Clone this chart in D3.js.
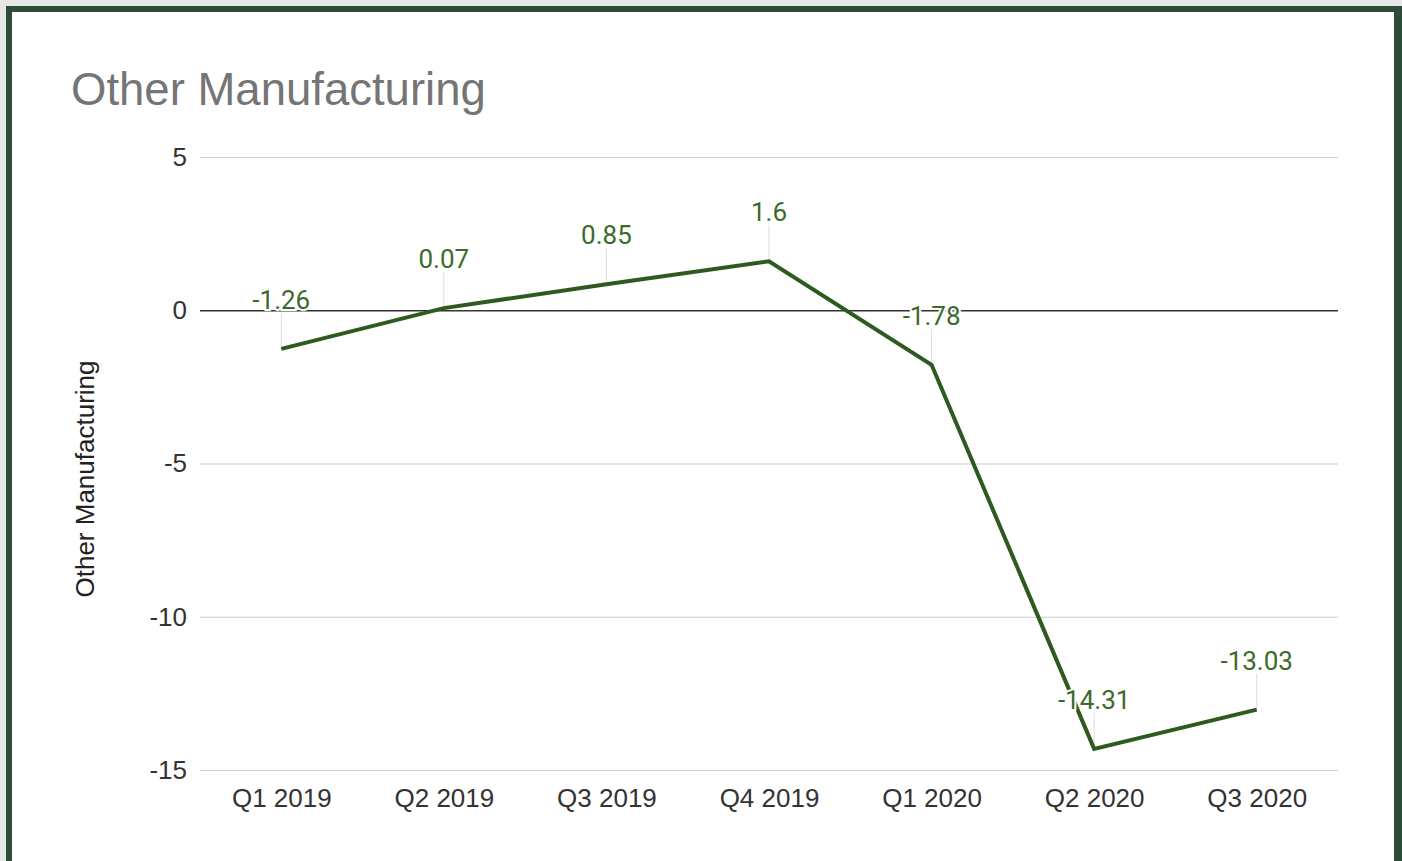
<!DOCTYPE html>
<html>
<head>
<meta charset="utf-8">
<script src="https://cdn.jsdelivr.net/npm/d3@7"></script>
<style>
  body { margin: 0; background: #e6e8e6; }
  svg { display: block; }
</style>
</head>
<body>
<div id="chart"></div>
<script>
// data
const quarters = ["Q1 2019", "Q2 2019", "Q3 2019", "Q4 2019", "Q1 2020", "Q2 2020", "Q3 2020"];
const values = [-1.26, 0.07, 0.85, 1.6, -1.78, -14.31, -13.03];
const yTicks = [5, 0, -5, -10, -15];

const W = 1402, H = 861;
const plot = { left: 200, right: 1338, top: 157, bottom: 770 };

const svg = d3.select("#chart").append("svg")
  .attr("width", W)
  .attr("height", H);

// frame
svg.append("rect").attr("x", 0).attr("y", 0).attr("width", W).attr("height", H).attr("fill", "#e6e8e6");
svg.append("rect").attr("x", 6).attr("y", 6).attr("width", W - 6).attr("height", H + 20).attr("fill", "#2e4b3a");
svg.append("rect").attr("x", 12).attr("y", 12).attr("width", 1382).attr("height", H + 20).attr("fill", "#ffffff");

// scales
const x = d3.scalePoint().domain(quarters).range([plot.left, plot.right]).padding(0.5);
const y = d3.scaleLinear().domain([-15, 5]).range([plot.bottom, plot.top]);

// title
svg.append("text")
  .attr("x", 71).attr("y", 105)
  .attr("font-family", "Liberation Sans, Arial, sans-serif")
  .attr("font-size", 45.5)
  .attr("fill", "#757575")
  .text("Other Manufacturing");

// y axis title
svg.append("text")
  .attr("transform", `translate(94,479) rotate(-90)`)
  .attr("text-anchor", "middle")
  .attr("font-family", "Liberation Sans, Arial, sans-serif")
  .attr("font-size", 26)
  .attr("fill", "#222")
  .text("Other Manufacturing");

// gridlines + y labels
const yAxis = svg.append("g")
  .attr("transform", `translate(${plot.left},0)`)
  .call(d3.axisLeft(y).tickValues(yTicks).tickSize(-(plot.right - plot.left)).tickPadding(13).tickFormat((d) => String(d)));
yAxis.select(".domain").remove();
yAxis.selectAll("line")
  .attr("stroke", (d) => d === 0 ? "#333" : "#cccccc")
  .attr("stroke-width", (d) => d === 0 ? 1.5 : 1.2);
yAxis.selectAll("text")
  .attr("font-family", "Liberation Sans, Arial, sans-serif")
  .attr("font-size", 26)
  .attr("fill", "#333");

// x labels
const xAxis = svg.append("g")
  .attr("transform", `translate(0,${plot.bottom})`)
  .call(d3.axisBottom(x).tickSize(0).tickPadding(19));
xAxis.select(".domain").remove();
xAxis.selectAll("text")
  .attr("font-family", "Liberation Sans, Arial, sans-serif")
  .attr("font-size", 26)
  .attr("fill", "#333");

// leader lines
svg.selectAll(".leader")
  .data(values)
  .join("line")
  .attr("x1", (d, i) => x(quarters[i]))
  .attr("x2", (d, i) => x(quarters[i]))
  .attr("y1", (d) => y(d) - 36)
  .attr("y2", (d) => y(d))
  .attr("stroke", "#dddddd")
  .attr("stroke-width", 1);

// line
const line = d3.line()
  .x((d, i) => x(quarters[i]))
  .y((d) => y(d));
svg.append("path")
  .datum(values)
  .attr("d", line)
  .attr("fill", "none")
  .attr("stroke", "#2d5a1f")
  .attr("stroke-width", 4)
  .attr("stroke-linejoin", "miter");

// data labels
svg.selectAll(".lbl")
  .data(values)
  .join("text")
  .attr("x", (d, i) => x(quarters[i]))
  .attr("y", (d) => y(d) - 40)
  .attr("text-anchor", "middle")
  .attr("font-family", "Roboto, sans-serif")
  .attr("font-size", 26)
  .attr("fill", "#3b6b2a")
  .attr("stroke", "#ffffff")
  .attr("stroke-width", 4)
  .attr("paint-order", "stroke")
  .text((d) => d);
</script>
</body>
</html>
